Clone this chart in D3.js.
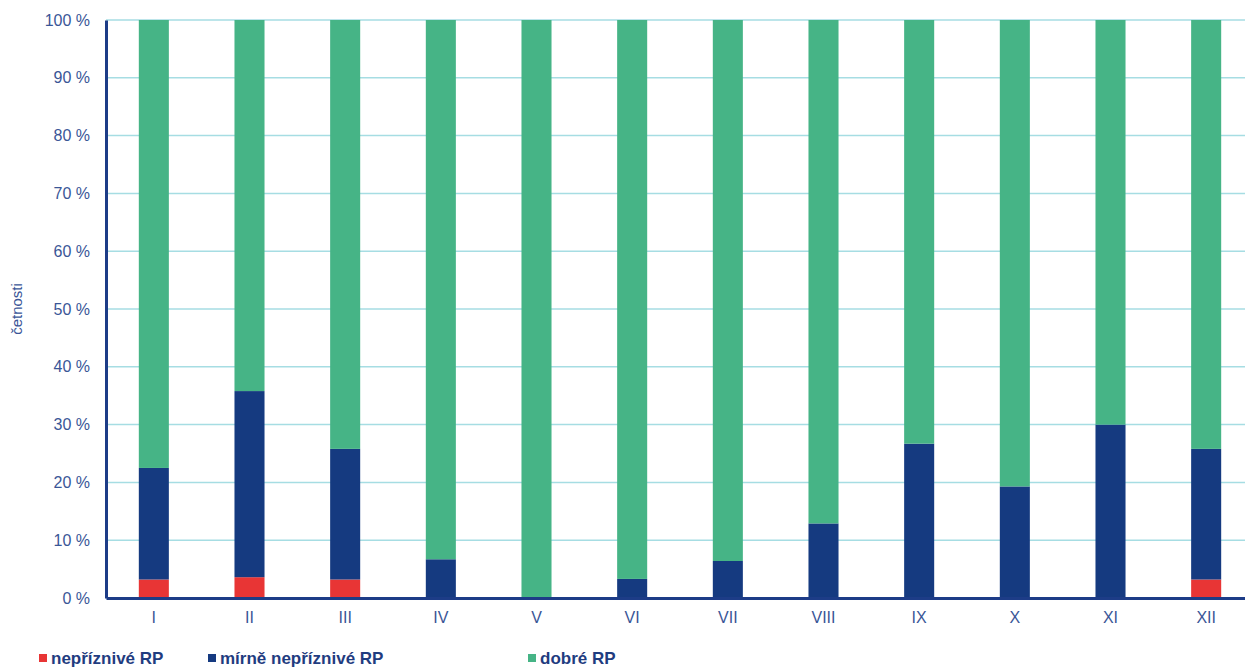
<!DOCTYPE html>
<html>
<head>
<meta charset="utf-8">
<script src="https://cdn.jsdelivr.net/npm/d3@7/dist/d3.min.js"></script>
<style>
  html, body { margin: 0; padding: 0; background: #fff; }
  svg { display: block; font-family: "Liberation Sans", Arial, sans-serif; }
</style>
</head>
<body>
<svg id="chart" width="1245" height="668"></svg>
<script>
// Months (Roman numerals) and share of each class, in percent
const months = ["I", "II", "III", "IV", "V", "VI", "VII", "VIII", "IX", "X", "XI", "XII"];
const nepriznive = [3.2, 3.6, 3.2, 0, 0, 0, 0, 0, 0, 0, 0, 3.2];
const mirneNepriznive = [19.3, 32.2, 22.6, 6.7, 0, 3.3, 6.4, 12.9, 26.7, 19.3, 30.0, 22.6];
const dobre = months.map((_, i) => 100 - nepriznive[i] - mirneNepriznive[i]);
const yTicks = [0, 10, 20, 30, 40, 50, 60, 70, 80, 90, 100];

const seriesNames = ["nepříznivé RP", "mírně nepříznivé RP", "dobré RP"];
const seriesColors = ["#e83535", "#153a80", "#46b486"];
const textColor = "#3a5697";
const axisColor = "#1d3c87";

const svg = d3.select("#chart");
const margin = { left: 106, top: 20, bottom: 70 };
const plotRight = 1254;
const height = 668;

const x = d3.scaleBand()
  .domain(months)
  .range([margin.left, plotRight])
  .paddingInner(0.686)
  .paddingOuter(0.343);

const y = d3.scaleLinear()
  .domain([0, 100])
  .range([598, margin.top]);

// Horizontal gridlines
svg.append("g")
  .selectAll("line")
  .data(yTicks.filter(d => d > 0))
  .join("line")
  .attr("x1", margin.left)
  .attr("x2", plotRight)
  .attr("y1", d => y(d))
  .attr("y2", d => y(d))
  .attr("stroke", "#a6dde3")
  .attr("stroke-width", 1.5);

// Stacked bars
const table = months.map((m, i) => ({
  month: m,
  s0: nepriznive[i],
  s1: mirneNepriznive[i],
  s2: dobre[i]
}));
const stack = d3.stack().keys(["s0", "s1", "s2"]);
const layers = stack(table);

svg.append("g")
  .selectAll("g")
  .data(layers)
  .join("g")
  .attr("fill", (d, i) => seriesColors[i])
  .selectAll("rect")
  .data(d => d)
  .join("rect")
  .attr("x", d => x(d.data.month))
  .attr("width", x.bandwidth())
  .attr("y", d => y(d[1]))
  .attr("height", d => Math.max(0, y(d[0]) - y(d[1])));

// Y axis
const yAxis = d3.axisLeft(y)
  .tickValues(yTicks)
  .tickFormat(d => d + " %")
  .tickSize(0)
  .tickPadding(16);
const gy = svg.append("g")
  .attr("transform", `translate(${margin.left},0)`)
  .call(yAxis);
gy.select(".domain").attr("stroke", axisColor).attr("stroke-width", 3);
gy.selectAll("text")
  .attr("fill", textColor)
  .attr("font-size", 16)
  .attr("font-family", "Liberation Sans, Arial, sans-serif");

// X axis
const xAxis = d3.axisBottom(x).tickSize(0).tickPadding(14);
const gx = svg.append("g")
  .attr("transform", `translate(0,${y(0)})`)
  .call(xAxis);
gx.select(".domain").attr("stroke", axisColor).attr("stroke-width", 3);
gx.selectAll("text")
  .attr("fill", textColor)
  .attr("font-size", 16)
  .attr("font-family", "Liberation Sans, Arial, sans-serif");

// Y axis title
svg.append("text")
  .attr("transform", `translate(22,${(y(0) + y(100)) / 2}) rotate(-90)`)
  .attr("text-anchor", "middle")
  .attr("fill", textColor)
  .attr("font-size", 15)
  .text("četnosti");

// Legend
const legendX = [39, 208, 528];
const legend = svg.append("g");
seriesNames.forEach((name, i) => {
  const g = legend.append("g").attr("transform", `translate(${legendX[i]},0)`);
  g.append("rect")
    .attr("x", 0).attr("y", 654)
    .attr("width", 8).attr("height", 8)
    .attr("fill", seriesColors[i]);
  g.append("text")
    .attr("x", 12).attr("y", 664)
    .attr("fill", "#1f3c80")
    .attr("font-size", 17)
    .attr("font-weight", "bold")
    .text(name);
});
</script>
</body>
</html>
